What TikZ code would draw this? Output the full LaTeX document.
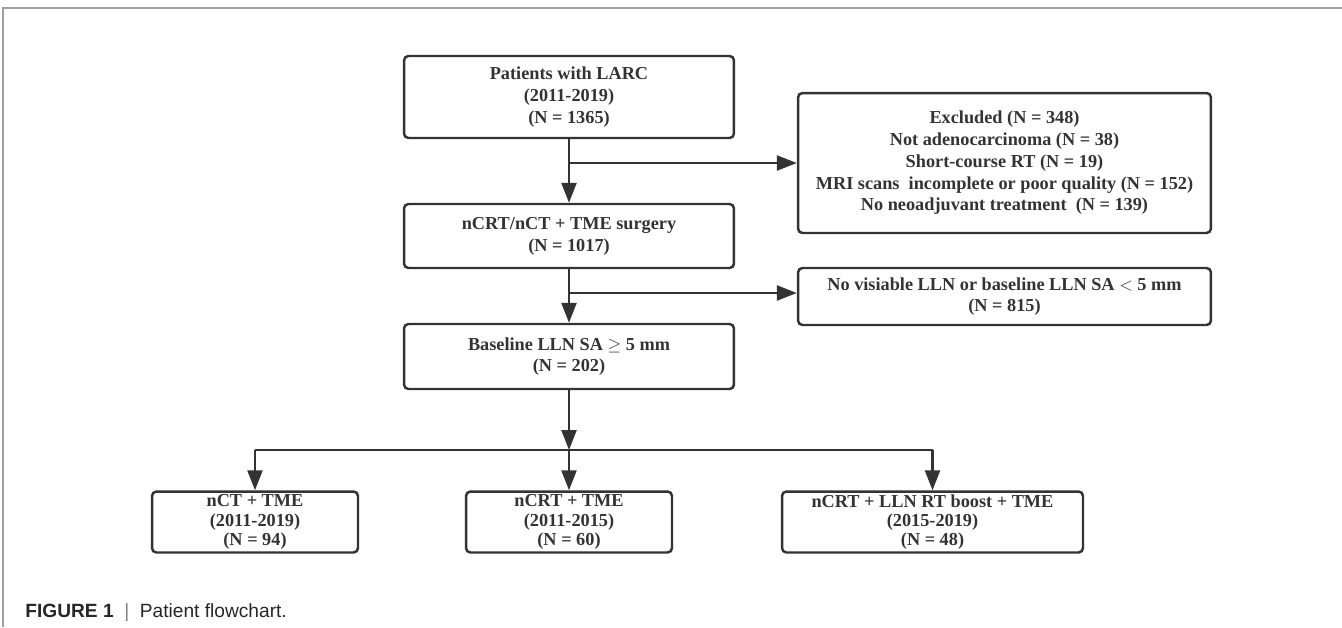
\documentclass[tikz,border=0pt]{standalone}
\usepackage{fontspec}
\setmainfont{Liberation Serif}
\newfontfamily\capfont{Liberation Sans}
\usetikzlibrary{arrows.meta,positioning}
\definecolor{linegray}{HTML}{333333}
\definecolor{framegray}{HTML}{A0A0A0}

\begin{document}
\begin{tikzpicture}[x=0.02cm,y=-0.02cm]
  \tikzset{box/.style={draw=linegray,line width=1.4pt,rounded corners=2.5pt,align=center,inner sep=0pt,
      text=linegray,font=\bfseries\fontsize{10.4}{12.4}\selectfont},
    groupbox/.style={box,font=\bfseries\fontsize{10.4}{10.9}\selectfont},
    flow/.style={draw=linegray,line width=1.4pt,-{Triangle[length=0.4cm,width=0.3cm]}},
    branchline/.style={draw=linegray,line width=1.4pt}}
  \useasboundingbox (0,0) rectangle (1342,627);
  \draw[framegray,line width=0.8pt] (1342,8) -- (3,8) -- (3,627);

  % main column
  \node[box,minimum width=6.6cm,minimum height=1.64cm] (patients) at (569,97) {Patients with LARC\\(2011-2019)\\(N = 1365)};
  \node[box,minimum width=6.6cm,minimum height=1.28cm] (surgery) at (569,236) {nCRT/nCT + TME surgery\\(N = 1017)};
  \node[box,minimum width=6.6cm,minimum height=1.3cm] (baseline) at (569,356.5) {Baseline LLN SA $\geq$ 5 mm\\(N = 202)};

  % exclusions
  \node[box,minimum width=8.26cm,minimum height=2.8cm] (excluded) at (1004.5,163) {Excluded (N = 348)\\Not adenocarcinoma (N = 38)\\Short-course RT (N = 19)\\MRI scans\ \ incomplete or poor quality (N = 152)\\No neoadjuvant treatment\ \ (N = 139)};
  \node[box,minimum width=8.26cm,minimum height=1.14cm] (novisible) at (1004.5,296.5) {No visiable LLN or baseline LLN SA $<$ 5 mm\\(N = 815)};

  % groups
  \node[groupbox,minimum width=4.12cm,minimum height=1.22cm] (nct) at (255,522) {nCT + TME\\(2011-2019)\\(N = 94)};
  \node[groupbox,minimum width=4.12cm,minimum height=1.22cm] (ncrt) at (569,522) {nCRT + TME\\(2011-2015)\\(N = 60)};
  \node[groupbox,minimum width=6.02cm,minimum height=1.22cm] (boost) at (932.5,522) {nCRT + LLN RT boost + TME\\(2015-2019)\\(N = 48)};

  \coordinate (fork) at (569,450);

  \draw[flow] (patients) -- (surgery);
  \draw[flow] (patients.south |- 0,163) -- (excluded.west |- 0,163);
  \draw[flow] (surgery) -- (baseline);
  \draw[flow] (surgery.south |- 0,293) -- (novisible.west |- 0,293);
  \draw[flow] (baseline) -- (fork);
  \draw[branchline] (nct |- fork) -- (boost |- fork);
  \foreach \g in {nct,ncrt,boost}
    \draw[flow] (\g |- fork) -- (\g);

  \node[anchor=base west,inner sep=0pt,text=black!85,font=\capfont\fontsize{10.9}{12}\selectfont] (caption) at (25,617)
    {\textbf{FIGURE 1}\ \ {\color{black!50}|}\ \ Patient flowchart.};
\end{tikzpicture}
\end{document}
